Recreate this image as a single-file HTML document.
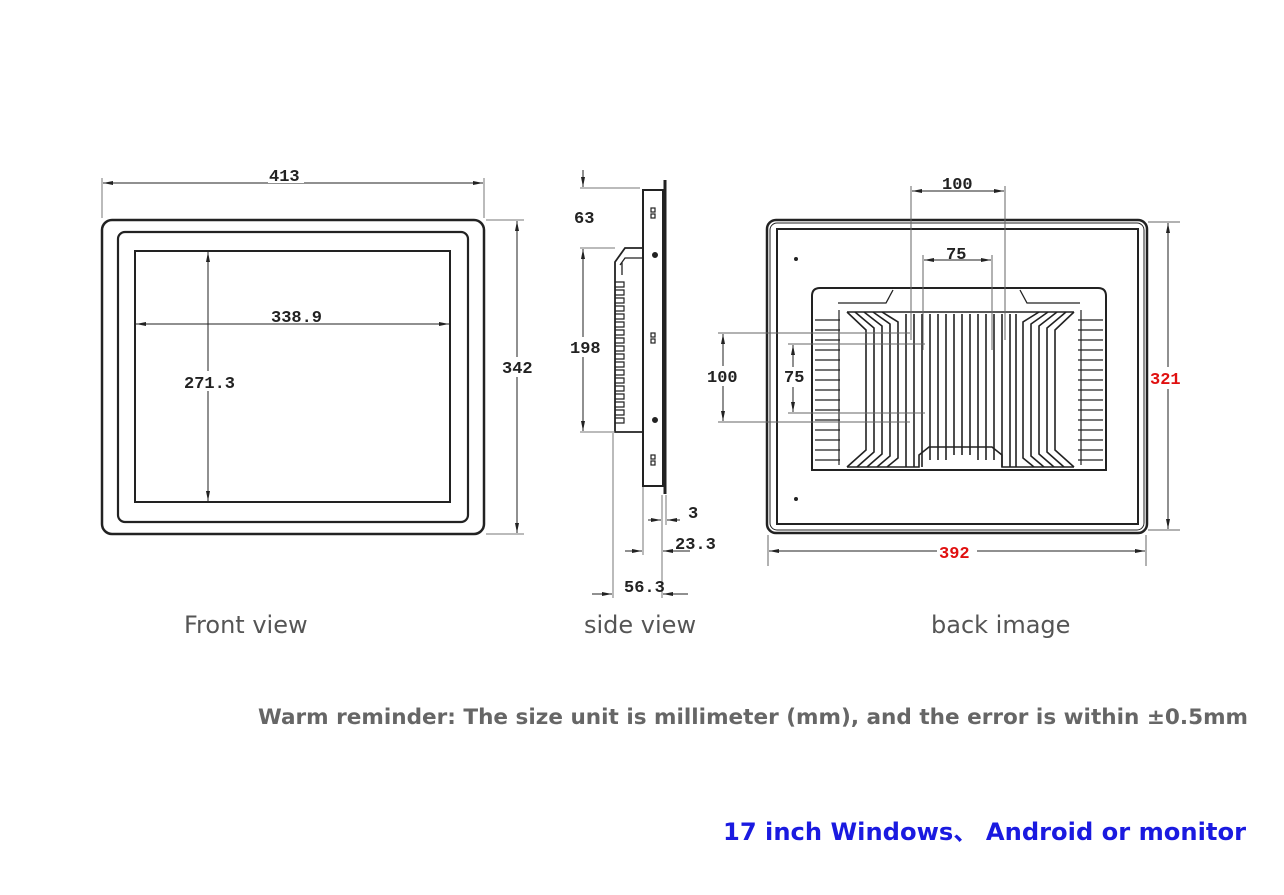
<!DOCTYPE html>
<html><head><meta charset="utf-8"><style>
html,body{margin:0;padding:0;background:#fff;width:1284px;height:895px;overflow:hidden}
svg{display:block}
.d{font-family:"Liberation Mono","DejaVu Sans Mono",monospace;font-size:17px;fill:#222;font-weight:bold}
.c{font-family:"DejaVu Sans","Liberation Sans",sans-serif;fill:#555}
</style></head><body>
<svg width="1284" height="895" viewBox="0 0 1284 895">
<defs>
<marker id="a" viewBox="0 0 10 6" refX="10" refY="3" markerWidth="10" markerHeight="6" orient="auto-start-reverse"><path d="M0,1 L10,3 L0,5z" fill="#222"/></marker>
</defs>
<g fill="none" stroke="#222">
<!-- FRONT -->
<rect x="102" y="220" width="382" height="314" rx="10" stroke-width="2.5"/>
<rect x="118" y="232" width="350" height="290" rx="7" stroke-width="2.2"/>
<rect x="135" y="251" width="315" height="251" stroke-width="2"/>
<g stroke="#777" stroke-width="1">
<line x1="102" y1="178" x2="102" y2="218"/><line x1="484" y1="178" x2="484" y2="218"/>
<line x1="486" y1="220" x2="524" y2="220"/><line x1="486" y1="534" x2="524" y2="534"/>
</g>
<line x1="103" y1="183" x2="483" y2="183" stroke-width="1" marker-start="url(#a)" marker-end="url(#a)"/>
<line x1="517" y1="221" x2="517" y2="533" stroke-width="1" marker-start="url(#a)" marker-end="url(#a)"/>
<line x1="136" y1="324" x2="449" y2="324" stroke-width="1" marker-start="url(#a)" marker-end="url(#a)"/>
<line x1="208" y1="252" x2="208" y2="501" stroke-width="1" marker-start="url(#a)" marker-end="url(#a)"/>
<!-- SIDE -->
<rect x="643" y="190" width="20" height="296" stroke-width="2"/>
<line x1="665" y1="180" x2="665" y2="494" stroke-width="3"/>
<path d="M643,248 L625,248 L615,262 L615,432 L643,432" stroke-width="1.8"/>
<path d="M622,262 L622,275 M643,258 L625,258 L620,265" stroke-width="1.3"/>
<g stroke-width="1.2">
<path d="M615,282 h9 v5 h-9 M615,290 h9 v5 h-9 M615,298 h9 v5 h-9 M615,306 h9 v5 h-9 M615,314 h9 v5 h-9 M615,322 h9 v5 h-9 M615,330 h9 v5 h-9 M615,338 h9 v5 h-9 M615,346 h9 v5 h-9 M615,354 h9 v5 h-9 M615,362 h9 v5 h-9 M615,370 h9 v5 h-9 M615,378 h9 v5 h-9 M615,386 h9 v5 h-9 M615,394 h9 v5 h-9 M615,402 h9 v5 h-9 M615,410 h9 v5 h-9 M615,418 h9 v5 h-9"/>
</g>
<g stroke-width="1.2">
<rect x="651" y="208" width="4" height="4"/><rect x="651" y="214" width="4" height="4"/>
<rect x="651" y="333" width="4" height="4"/><rect x="651" y="339" width="4" height="4"/>
<rect x="651" y="455" width="4" height="4"/><rect x="651" y="461" width="4" height="4"/>
</g>
<circle cx="655" cy="255" r="2.5" fill="#222"/><circle cx="655" cy="420" r="2.5" fill="#222"/>
<g stroke="#777" stroke-width="1">
<line x1="580" y1="188" x2="640" y2="188"/>
<line x1="580" y1="248" x2="615" y2="248"/><line x1="580" y1="432" x2="615" y2="432"/>
<line x1="613" y1="433" x2="613" y2="598"/><line x1="643" y1="487" x2="643" y2="555"/>
<line x1="662" y1="495" x2="662" y2="598"/><line x1="666" y1="495" x2="666" y2="525"/>
</g>
<line x1="583" y1="170" x2="583" y2="187" stroke-width="1" marker-end="url(#a)"/>
<line x1="583" y1="249" x2="583" y2="431" stroke-width="1" marker-start="url(#a)" marker-end="url(#a)"/>
<line x1="648" y1="520" x2="661" y2="520" stroke-width="1" marker-end="url(#a)"/>
<line x1="680" y1="520" x2="667" y2="520" stroke-width="1" marker-end="url(#a)"/>
<line x1="625" y1="551" x2="642" y2="551" stroke-width="1" marker-end="url(#a)"/>
<line x1="690" y1="551" x2="663" y2="551" stroke-width="1" marker-end="url(#a)"/>
<line x1="592" y1="594" x2="612" y2="594" stroke-width="1" marker-end="url(#a)"/>
<line x1="688" y1="594" x2="663" y2="594" stroke-width="1" marker-end="url(#a)"/>
<!-- BACK -->
<rect x="767" y="220" width="380" height="313" rx="9" stroke-width="2.5"/>
<rect x="770" y="223" width="374" height="307" rx="7" stroke-width="1"/>
<rect x="777" y="229" width="361" height="295" stroke-width="2"/>
<circle cx="796" cy="259" r="1.5" fill="#222"/><circle cx="796" cy="499" r="1.5" fill="#222"/>
<path d="M812,470 L812,296 Q812,288 820,288 L1098,288 Q1106,288 1106,296 L1106,470 Z" stroke-width="2"/>
<path d="M838,303 L886,303 L893,290 M1020,290 L1027,303 L1080,303" stroke-width="1.3"/>
<line x1="824" y1="470" x2="1094" y2="470" stroke-width="1.5"/>
<g stroke-width="1.2">
<path d="M815,320 H840 M815,330 H840 M815,340 H840 M815,350 H840 M815,360 H840 M815,370 H840 M815,380 H840 M815,390 H840 M815,400 H840 M815,410 H840 M815,420 H840 M815,430 H840 M815,440 H840 M815,450 H840 M815,460 H840"/>
<path d="M1078,320 H1103 M1078,330 H1103 M1078,340 H1103 M1078,350 H1103 M1078,360 H1103 M1078,370 H1103 M1078,380 H1103 M1078,390 H1103 M1078,400 H1103 M1078,410 H1103 M1078,420 H1103 M1078,430 H1103 M1078,440 H1103 M1078,450 H1103 M1078,460 H1103"/>
<path d="M839,310 V465 M1081,310 V465"/>
</g>
<g stroke-width="1.6">
<path d="M847,312 L1074,312"/>
<path d="M847,312 L866,330 L866,450 L847,467 M855,312 L874,328 L874,452 L857,467 M864,312 L882,326 L882,454 L867,467 M873,312 L890,324 L890,456 L877,467 M882,312 L898,322 L898,458 L887,467"/>
<path d="M1074,312 L1055,330 L1055,450 L1074,467 M1066,312 L1047,328 L1047,452 L1064,467 M1057,312 L1039,326 L1039,454 L1054,467 M1048,312 L1031,324 L1031,456 L1044,467 M1039,312 L1023,322 L1023,458 L1034,467"/>
<path d="M906,314 V467 M914,314 V467 M922,314 V467 M930,314 V460 M938,314 V460 M946,314 V460 M954,314 V455 M962,314 V455 M970,314 V455 M978,314 V460 M986,314 V460 M994,314 V460 M1002,314 V467 M1010,314 V467 M1016,314 V467"/>
<path d="M847,467 H919 L919,455 L929,447 H992 L1002,455 L1002,467 H1074"/>
</g>
<g stroke="#666" stroke-width="1">
<line x1="911" y1="186" x2="911" y2="340"/><line x1="1005" y1="186" x2="1005" y2="340"/>
<line x1="923" y1="255" x2="923" y2="350"/><line x1="992" y1="255" x2="992" y2="350"/>
<line x1="718" y1="333" x2="910" y2="333"/><line x1="718" y1="422" x2="910" y2="422"/>
<line x1="788" y1="344" x2="925" y2="344"/><line x1="788" y1="413" x2="925" y2="413"/>
<line x1="1148" y1="222" x2="1180" y2="222"/><line x1="1148" y1="530" x2="1180" y2="530"/>
<line x1="768" y1="535" x2="768" y2="566"/><line x1="1146" y1="535" x2="1146" y2="566"/>
</g>
<line x1="912" y1="191" x2="1004" y2="191" stroke-width="1" marker-start="url(#a)" marker-end="url(#a)"/>
<line x1="924" y1="260" x2="991" y2="260" stroke-width="1" marker-start="url(#a)" marker-end="url(#a)"/>
<line x1="723" y1="334" x2="723" y2="421" stroke-width="1" marker-start="url(#a)" marker-end="url(#a)"/>
<line x1="793" y1="345" x2="793" y2="412" stroke-width="1" marker-start="url(#a)" marker-end="url(#a)"/>
<line x1="1168" y1="223" x2="1168" y2="529" stroke-width="1" marker-start="url(#a)" marker-end="url(#a)"/>
<line x1="769" y1="551" x2="1145" y2="551" stroke-width="1" marker-start="url(#a)" marker-end="url(#a)"/>
</g>
<g class="d">
<rect x="268" y="165" width="36" height="18" fill="#fff"/>
<text x="269" y="181">413</text>
<text x="271" y="322">338.9</text>
<rect x="183" y="371" width="52" height="20" fill="#fff"/>
<text x="184" y="388">271.3</text>
<rect x="501" y="357" width="34" height="20" fill="#fff"/>
<text x="502" y="373">342</text>
<text x="574" y="223">63</text>
<rect x="569" y="337" width="34" height="20" fill="#fff"/>
<text x="570" y="353">198</text>
<text x="688" y="518">3</text>
<text x="675" y="549">23.3</text>
<text x="624" y="592">56.3</text>
<text x="942" y="189">100</text>
<text x="946" y="259">75</text>
<rect x="706" y="366" width="34" height="20" fill="#fff"/>
<text x="707" y="382">100</text>
<rect x="783" y="367" width="22" height="20" fill="#fff"/>
<text x="784" y="382">75</text>
<rect x="1149" y="367" width="36" height="22" fill="#fff"/>
<text x="1150" y="384" fill="#e01010" style="fill:#e01010">321</text>
<rect x="937" y="542" width="40" height="20" fill="#fff"/>
<text x="939" y="558" style="fill:#e01010">392</text>
</g>
<g class="c" font-size="24">
<text x="184" y="633">Front view</text>
<text x="584" y="633">side view</text>
<text x="931" y="633">back image</text>
</g>
<text x="258" y="724" font-family="'DejaVu Sans','Liberation Sans',sans-serif" font-size="21.5" font-weight="bold" fill="#666" textLength="990" lengthAdjust="spacingAndGlyphs">Warm reminder: The size unit is millimeter (mm), and the error is within ±0.5mm</text>
<text x="723" y="840" font-family="'DejaVu Sans','Liberation Sans','Noto Sans CJK SC',sans-serif" font-size="24" font-weight="bold" fill="#1a1ae0" textLength="523" lengthAdjust="spacingAndGlyphs">17 inch Windows、 Android or monitor</text>
</svg>
</body></html>
